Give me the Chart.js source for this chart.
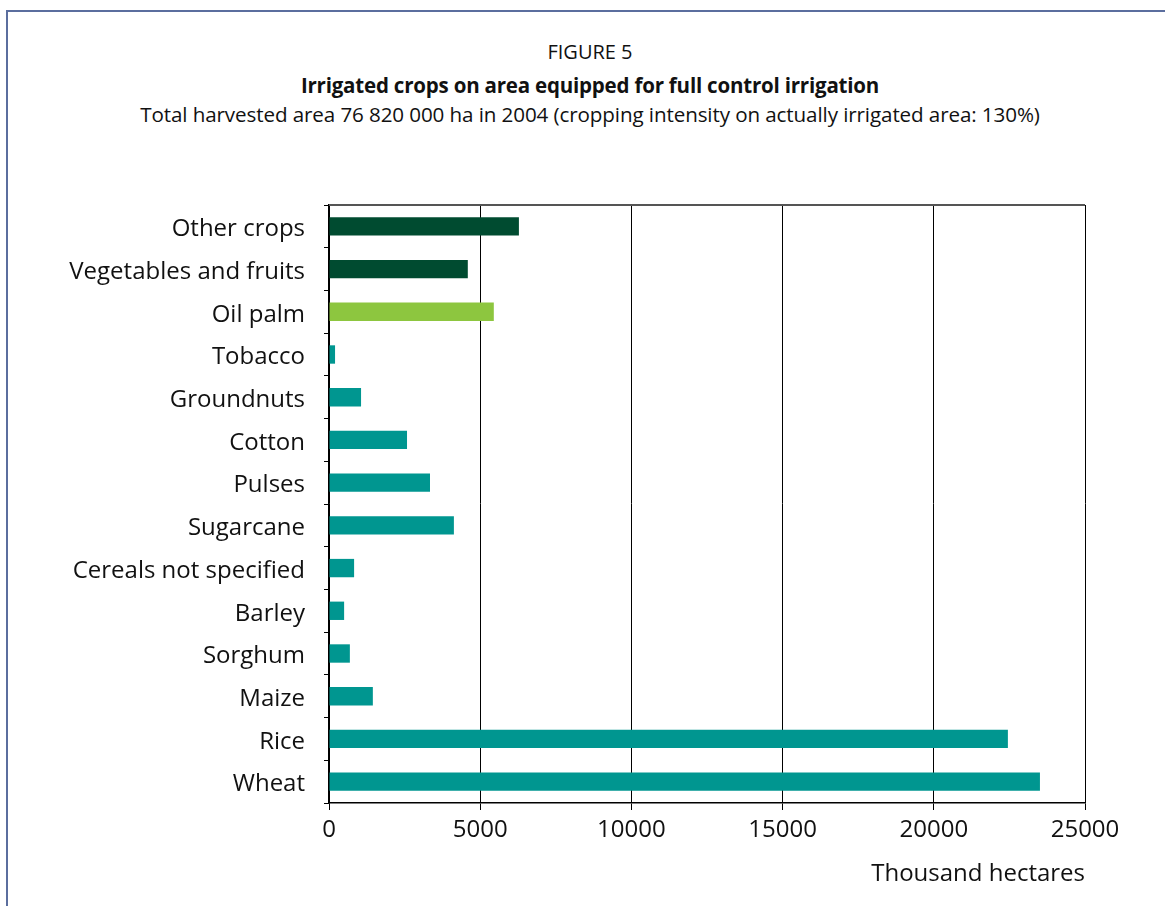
<!DOCTYPE html>
<html>
<head>
<meta charset="utf-8">
<script src="https://cdn.jsdelivr.net/npm/chart.js@4.4.1/dist/chart.umd.min.js"></script>
<style>
  html, body { margin: 0; padding: 0; background: #fff; }
  #wrap { position: relative; width: 1165px; height: 906px; overflow: hidden; }
  #frame { position: absolute; left: 6px; top: 10px; width: 1300px; height: 1000px;
           border-left: 2px solid #5b6e9e; border-top: 2px solid #5b6e9e; }
  .t { position: absolute; left: 0; width: 1180px; text-align: center; color: #111;
       font-family: "Open Sans", "Noto Sans", sans-serif; white-space: nowrap; line-height: 28px; }
  #t1 { top: 38px; font-size: 20px; }
  #t2 { top: 71px; font-size: 20.5px; font-weight: bold; letter-spacing: -0.2px; }
  #t3 { top: 100px; font-size: 20.6px; letter-spacing: -0.1px; }
  canvas { position: absolute; left: 0; top: 0; }
</style>
</head>
<body>
<div id="wrap">
  <div id="frame"></div>
  <div class="t" id="t1">FIGURE 5</div>
  <div class="t" id="t2">Irrigated crops on area equipped for full control irrigation</div>
  <div class="t" id="t3">Total harvested area 76 820 000 ha in 2004 (cropping intensity on actually irrigated area: 130%)</div>
  <canvas id="c" width="1165" height="906"></canvas>
</div>
<script>
const categories = ["Other crops", "Vegetables and fruits", "Oil palm", "Tobacco", "Groundnuts",
  "Cotton", "Pulses", "Sugarcane", "Cereals not specified", "Barley", "Sorghum", "Maize", "Rice", "Wheat"];
const areaValues = [6280, 4590, 5450, 200, 1060, 2580, 3340, 4130, 830, 500, 690, 1450, 22450, 23510];
const barColors = ["#004b30", "#004b30", "#8dc63f", "#009690", "#009690", "#009690", "#009690",
  "#009690", "#009690", "#009690", "#009690", "#009690", "#009690", "#009690"];
const xTicks = [0, 5000, 10000, 15000, 20000, 25000];
const xTitle = "Thousand hectares";

const topBorder = {
  id: "topBorder",
  afterDraw(chart) {
    const { ctx, chartArea: a } = chart;
    ctx.save();
    ctx.strokeStyle = "#555";
    ctx.lineWidth = 2;
    ctx.beginPath();
    ctx.moveTo(a.left, a.top);
    ctx.lineTo(a.right, a.top);
    ctx.stroke();
    ctx.restore();
  }
};

const labelFont = { family: "'Open Sans', 'Noto Sans', sans-serif", size: 24 };

new Chart(document.getElementById("c"), {
  type: "bar",
  data: {
    labels: categories,
    datasets: [{ data: areaValues, backgroundColor: barColors, borderWidth: 0,
                 barPercentage: 0.43, categoryPercentage: 1 }]
  },
  options: {
    indexAxis: "y",
    responsive: false,
    animation: false,
    layout: { padding: { left: 0, right: 80, top: 205, bottom: 13 } },
    plugins: { legend: { display: false }, tooltip: { enabled: false } },
    scales: {
      x: {
        min: 0, max: 25000,
        afterBuildTicks(s) { s.ticks = xTicks.map(v => ({ value: v })); },
        afterFit(s) { s.height = 90; },
        grid: { color: "#000", lineWidth: 1, tickLength: 7, drawOnChartArea: true },
        border: { color: "#000", width: 1.5 },
        ticks: { color: "#111", font: labelFont, padding: 6, maxRotation: 0,
                 callback: v => String(v) },
        title: { display: true, text: xTitle, align: "end", color: "#111", font: labelFont,
                 padding: { top: 4, bottom: 4 } }
      },
      y: {
        afterFit(s) { s.width = 329; },
        grid: { display: true, offset: true, drawOnChartArea: false, tickLength: 5, color: "#000", lineWidth: 1 },
        border: { color: "#000", width: 1.5 },
        ticks: { color: "#111", font: labelFont, padding: 19, labelOffset: 3 }
      }
    }
  },
  plugins: [topBorder]
});
</script>
</body>
</html>
